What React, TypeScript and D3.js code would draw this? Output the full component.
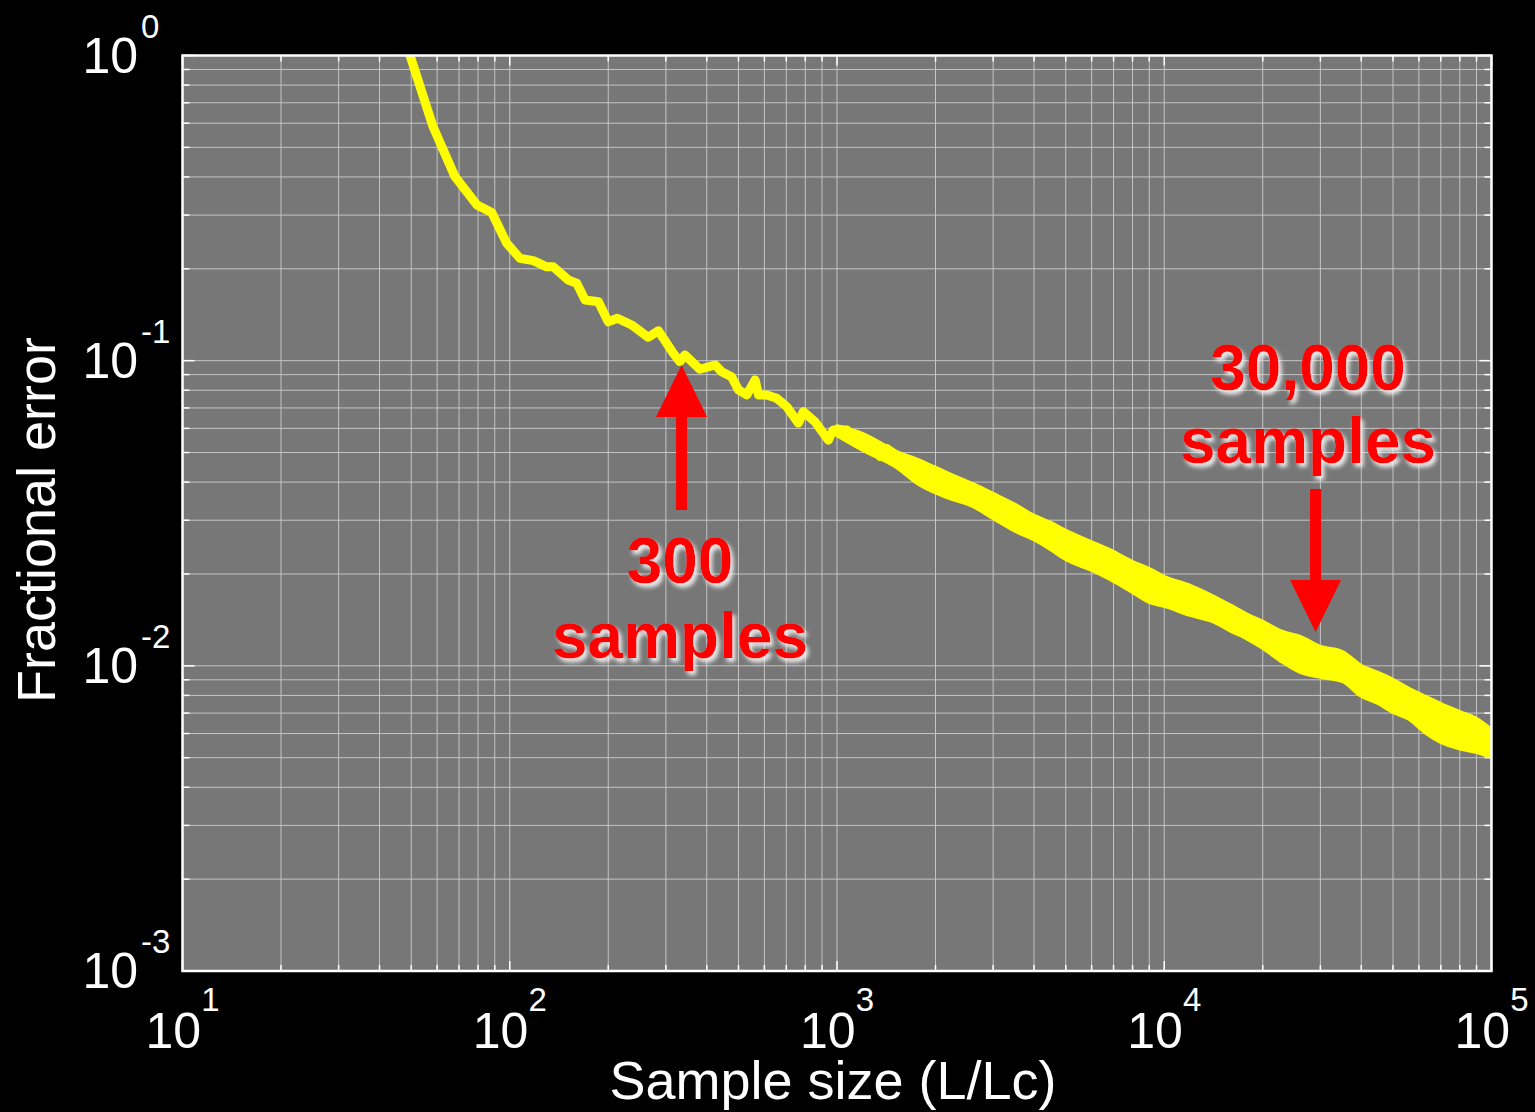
import React from "react";
import * as d3 from "d3";

const W = 1535;
const H = 1112;
const FRAME = { left: 182.5, right: 1491.5, top: 55.5, bottom: 971 };

// Mean fractional error versus sample size, low-N part of the curve
const sampleSize = [
  47, 49.6, 58.3, 68, 79.3, 88.1, 97.9, 107.5, 118, 129.7, 135.9, 151, 160.2, 169.9,
  186.6, 200, 213.2, 235.8, 265.1, 284.5, 316, 331, 343, 381, 424, 444, 476, 500, 530,
  562, 576, 610, 654, 702, 762, 789, 857, 941, 974, 1071, 1149, 1262, 1353, 1418, 1539,
  1752, 1968, 2163,
];
const fracError = [
  1.1, 1.0, 0.584, 0.401, 0.324, 0.306, 0.2425, 0.2164, 0.2128, 0.203, 0.203, 0.1838,
  0.1793, 0.158, 0.156, 0.134, 0.1377, 0.1309, 0.1193, 0.1254, 0.1057, 0.0993, 0.1044,
  0.0937, 0.0968, 0.092, 0.0886, 0.0802, 0.0772, 0.0865, 0.0772, 0.0772, 0.0753, 0.0707,
  0.0624, 0.0681, 0.063, 0.0549, 0.0593, 0.0593, 0.0549, 0.0543, 0.0485, 0.0516, 0.0485,
  0.0428, 0.0438, 0.0387,
];

// Scatter band of the error at large N (upper and lower envelope)
const bandSize = [
  1000, 1200, 1500, 1800, 2200, 2600, 3000, 3500, 4000, 4500, 5000, 6000, 7000, 8000,
  9000, 10000, 12000, 14000, 16000, 18000, 20000, 23000, 26000, 30000, 35000, 40000,
  45000, 50000, 56000, 63000, 70000, 80000, 90000, 100000,
];
const bandHigh = [
  0.061, 0.0575, 0.0506, 0.0469, 0.0425, 0.0394, 0.0366, 0.0337, 0.031, 0.0294, 0.0277,
  0.0254, 0.0236, 0.0219, 0.02076, 0.01955, 0.01828, 0.01694, 0.01572, 0.01468, 0.01393,
  0.01292, 0.01244, 0.01153, 0.0111, 0.00999, 0.00948, 0.00899, 0.0084, 0.00791, 0.0075,
  0.00706, 0.0067, 0.00617,
];
const bandLow = [
  0.057, 0.051, 0.0452, 0.0391, 0.0355, 0.0334, 0.0305, 0.0277, 0.026, 0.0241, 0.0224,
  0.0206, 0.01897, 0.01745, 0.0162, 0.01572, 0.01468, 0.01403, 0.01301, 0.01225, 0.01145,
  0.0103, 0.00955, 0.0092, 0.00892, 0.00797, 0.00755, 0.00706, 0.0067, 0.00603, 0.00563,
  0.00536, 0.00522, 0.00503,
];

const xTickExps = [1, 2, 3, 4, 5];
const yTickExps = [0, -1, -2, -3];

const markers = [
  { n: 335, err: 0.0968, dir: "up", lines: ["300", "samples"] },
  { n: 29000, err: 0.0129, dir: "down", lines: ["30,000", "samples"] },
];

const YELLOW = "#ffff00";
const RED = "#ff0000";
const FONT = "'Liberation Sans', Arial, Helvetica, sans-serif";

function logTicks(lo: number, hi: number) {
  const out: { v: number; major: boolean }[] = [];
  for (let e = lo; e <= hi; e++) {
    for (let m = 1; m <= 9; m++) {
      const v = m * Math.pow(10, e);
      if (v > Math.pow(10, hi) + 1e-12) break;
      out.push({ v, major: m === 1 });
    }
  }
  return out;
}

export default function App() {
  const x = d3.scaleLog().domain([10, 1e5]).range([FRAME.left, FRAME.right]);
  const y = d3.scaleLog().domain([1e-3, 1]).range([FRAME.bottom, FRAME.top]);

  const xt = logTicks(1, 5);
  const yt = logTicks(-3, 0);

  const curve = sampleSize.map((n, i) => ({ n, e: fracError[i] }));
  const band = bandSize.map((n, i) => ({ n, hi: bandHigh[i], lo: bandLow[i] }));

  const linePath = d3
    .line<{ n: number; e: number }>()
    .x((d) => x(d.n))
    .y((d) => y(d.e))(curve) as string;

  const bandPath = d3
    .area<{ n: number; hi: number; lo: number }>()
    .x((d) => x(d.n))
    .y0((d) => y(d.lo))
    .y1((d) => y(d.hi))
    .curve(d3.curveMonotoneX)(band) as string;

  const pw = FRAME.right - FRAME.left;
  const ph = FRAME.bottom - FRAME.top;

  return (
    <svg
      width={W}
      height={H}
      style={{ position: "fixed", left: 0, top: 0, background: "#000" }}
    >
      <defs>
        <clipPath id="plotClip">
          <rect x={FRAME.left} y={FRAME.top} width={pw} height={ph} />
        </clipPath>
        <filter id="labelShadow" x="-10%" y="-20%" width="130%" height="150%">
          <feDropShadow dx="3" dy="4" stdDeviation="2.2" floodColor="#ffffff" floodOpacity="0.85" />
        </filter>
      </defs>
      <rect x={0} y={0} width={W} height={H} fill="#000" />
      <rect x={FRAME.left} y={FRAME.top} width={pw} height={ph} fill="#777777" />

      {/* grid */}
      <g stroke="#c4c4c4" strokeWidth={1}>
        {xt.map((t, i) => (
          <line key={"gx" + i} x1={x(t.v)} x2={x(t.v)} y1={FRAME.top} y2={FRAME.bottom} />
        ))}
        {yt.map((t, i) => (
          <line key={"gy" + i} x1={FRAME.left} x2={FRAME.right} y1={y(t.v)} y2={y(t.v)} />
        ))}
      </g>

      {/* ticks */}
      <g stroke="#fff" strokeWidth={1.5}>
        {xt.map((t, i) => {
          const len = t.major ? 10 : 6;
          const px = x(t.v);
          return (
            <g key={"tx" + i}>
              <line x1={px} x2={px} y1={FRAME.bottom} y2={FRAME.bottom - len} />
              <line x1={px} x2={px} y1={FRAME.top} y2={FRAME.top + len} />
            </g>
          );
        })}
        {yt.map((t, i) => {
          const len = t.major ? 12 : 7;
          const py = y(t.v);
          return (
            <g key={"ty" + i}>
              <line x1={FRAME.left} x2={FRAME.left + len} y1={py} y2={py} />
              <line x1={FRAME.right} x2={FRAME.right - len} y1={py} y2={py} />
            </g>
          );
        })}
      </g>

      {/* data */}
      <g clipPath="url(#plotClip)">
        <path d={bandPath} fill={YELLOW} stroke={YELLOW} strokeWidth={4} strokeLinejoin="round" />
        <path d={linePath} fill="none" stroke={YELLOW} strokeWidth={9} strokeLinejoin="round" strokeLinecap="round" />
      </g>

      {/* frame */}
      <rect x={FRAME.left} y={FRAME.top} width={pw} height={ph} fill="none" stroke="#fff" strokeWidth={2.5} />

      {/* tick labels */}
      <g fill="#fff" fontFamily={FONT}>
        {xTickExps.map((e) => (
          <text key={"xl" + e} x={x(Math.pow(10, e))} y={1048} textAnchor="middle" fontSize={50}>
            10
            <tspan dy={-37} fontSize={33}>{e}</tspan>
          </text>
        ))}
        {yTickExps.map((e) => {
          const py = y(Math.pow(10, e));
          return (
            <g key={"yl" + e}>
              <text x={138} y={py + 17} textAnchor="end" fontSize={50}>10</text>
              <text x={141} y={py - 18} textAnchor="start" fontSize={33}>{e}</text>
            </g>
          );
        })}
      </g>

      {/* axis titles */}
      <text x={833} y={1099} textAnchor="middle" fill="#fff" fontFamily={FONT} fontSize={54}>
        Sample size (L/Lc)
      </text>
      <text
        transform="translate(55,520) rotate(-90)"
        textAnchor="middle"
        fill="#fff"
        fontFamily={FONT}
        fontSize={54}
      >
        Fractional error
      </text>

      {/* annotations */}
      {markers.map((m, i) => {
        const tx = x(m.n);
        const ty = y(m.err);
        const up = m.dir === "up";
        const s = up ? 1 : -1;
        const headLen = 52;
        const headHalf = 25.5;
        const shaftHalf = 5.5;
        const shaftLen = up ? 145 : 143;
        const head = `M${tx},${ty} L${tx - headHalf},${ty + s * headLen} L${tx + headHalf},${ty + s * headLen} Z`;
        const shaft = `M${tx - shaftHalf},${ty + s * (headLen - 2)} L${tx + shaftHalf},${ty + s * (headLen - 2)} L${tx + shaftHalf},${ty + s * shaftLen} L${tx - shaftHalf},${ty + s * shaftLen} Z`;
        const cx = up ? tx - 1.5 : tx - 7.5;
        const base1 = up ? ty + 218 : ty - 242;
        const base2 = up ? ty + 293 : ty - 169;
        return (
          <g key={"mk" + i}>
            <path d={head} fill={RED} />
            <path d={shaft} fill={RED} />
            <g filter="url(#labelShadow)" fill={RED} fontFamily={FONT} fontWeight="bold" fontSize={64} textAnchor="middle">
              <text x={cx} y={base1}>{m.lines[0]}</text>
              <text x={cx} y={base2}>{m.lines[1]}</text>
            </g>
          </g>
        );
      })}
    </svg>
  );
}
